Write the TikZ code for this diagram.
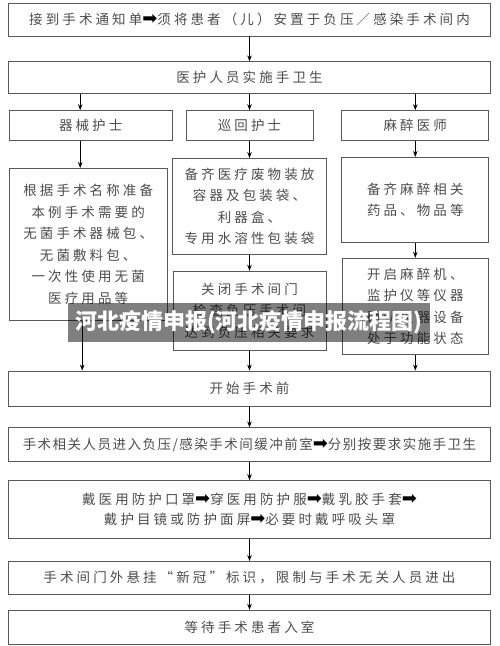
\documentclass[tikz,border=0pt]{standalone}
\usepackage{fontspec}
\setmainfont{Noto Sans CJK SC}[LetterSpace=23]
\newfontfamily\arrowfont{DejaVu Sans}
\newfontfamily\markfont{Noto Sans CJK SC}
\newcommand{\thenarrow}{{\arrowfont\fontsize{18}{18}\selectfont\color{black}➡}}
\usepackage{tikz}
\usetikzlibrary{shapes,arrows.meta,positioning,calc}
\tikzstyle{box} = [rectangle, draw=black!65, line width=0.8pt, text=black!70, align=center, inner sep=0pt, font=\fontsize{13.5}{21.5}\selectfont]
\tikzstyle{wide} = [box, minimum width=482pt]
\tikzstyle{line} = [draw, line width=0.8pt, ->]

\begin{document}
\begin{tikzpicture}[x=1pt, y=1pt, >={Stealth[length=6pt,width=4.5pt]}]
    \useasboundingbox (0,0) rectangle (500,-646);
    \node[wide, minimum height=33pt] (notice) at (249.5,-19.5) {接到手术通知单\thenarrow 须将患者（儿）安置于负压／感染手术间内};
    \node[wide, minimum height=32pt, below=25pt of notice] (handhyg) {医护人员实施手卫生};

    \node[box, minimum width=127pt, minimum height=30pt, below=16pt of handhyg] (circ) {巡回护士};
    \node[box, minimum width=163pt, minimum height=30pt, left=13pt of circ] (scrub) {器械护士};
    \node[box, minimum width=147pt, minimum height=30pt, right=28pt of circ] (anes) {麻醉医师};

    \node[box, minimum width=158pt, minimum height=152pt, below=27pt of scrub, xshift=-2.5pt] (scrubprep) {根据手术名称准备\\本例手术需要的\\无菌手术器械包、\\无菌敷料包、\\一次性使用无菌\\医疗用品等};
    \node[box, minimum width=154pt, minimum height=96pt, below=17pt of circ] (circprep) {备齐医疗废物装放\\容器及包装袋、\\利器盒、\\专用水溶性包装袋};
    \node[box, minimum width=153pt, minimum height=79pt, below=16pt of circprep] (circcheck) {关闭手术间门\\检查负压手术间\\达到负压相关要求};
    \node[box, minimum width=147pt, minimum height=85pt, below=16pt of anes] (anesprep) {备齐麻醉相关\\药品、物品等};
    \node[box, minimum width=146pt, minimum height=96pt, below=15pt of anesprep] (anescheck) {开启麻醉机、\\监护仪等仪器\\确认仪器设备\\处于功能状态};

    \node[wide, minimum height=35pt, below=20pt of circcheck] (start) {开始手术前};
    \node[wide, minimum height=34pt, below=21pt of start] (enter) {\addfontfeature{LetterSpace=11}手术相关人员进入负压/感染手术间缓冲前室\thenarrow 分别按要求实施手卫生};
    \node[wide, minimum height=58pt, below=18pt of enter, font=\fontsize{13.5}{20}\selectfont] (ppe) {戴医用防护口罩\thenarrow 穿医用防护服\thenarrow 戴乳胶手套\thenarrow\\戴护目镜或防护面屏\thenarrow 必要时戴呼吸头罩};
    \node[wide, minimum height=33pt, below=22pt of ppe] (sign) {手术间门外悬挂“新冠”标识，限制与手术无关人员进出};
    \node[wide, minimum height=34pt, below=15pt of sign] (wait) {等待手术患者入室};

    \draw[line] (notice) -- (handhyg);
    \draw[line] ([xshift=-10.5pt]scrub.north |- handhyg.south) -- ([xshift=-10.5pt]scrub.north);
    \draw[line] (circ.north |- handhyg.south) -- (circ);
    \draw[line] (anes.north |- handhyg.south) -- (anes);
    \draw[line] ([xshift=-10.5pt]scrub.south) -- ([xshift=-10.5pt]scrub.south |- scrubprep.north);
    \draw[line] (circ) -- (circprep);
    \draw[line] (circprep) -- (circcheck);
    \draw[line] (anes) -- (anesprep);
    \draw[line] (anesprep) -- (anescheck);
    \draw[line] ([xshift=-6pt]scrubprep.south) -- ([xshift=-6pt]scrubprep.south |- start.north);
    \draw[line] (circcheck) -- (start);
    \draw[line] (anescheck.south) -- (anescheck.south |- start.north);
    \draw[line] (start) -- (enter);
    \draw[line] (enter) -- (ppe);
    \draw[line] (ppe) -- (sign);
    \draw[line] (sign) -- (wait);

    \node[fill=black, fill opacity=0.5, text opacity=1, text=white, minimum width=362pt, minimum height=39pt, font=\markfont\bfseries\fontsize{22}{22}\selectfont] (mark) at (249,-322.5) {河北疫情申报(河北疫情申报流程图)};
\end{tikzpicture}
\end{document}
